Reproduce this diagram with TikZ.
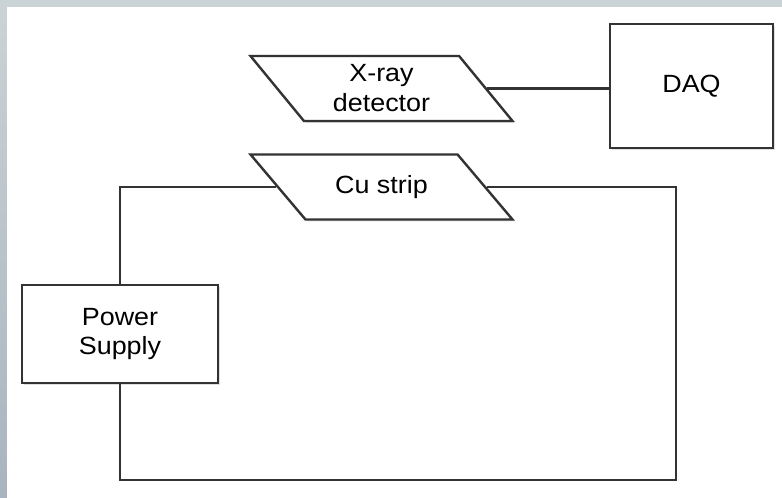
\documentclass[tikz,border=0pt]{standalone}
\usepackage{fontspec}
\usetikzlibrary{shapes.geometric,shadows}
\newfontfamily\diagfont[FakeStretch=1.08]{Liberation Sans}
\newcommand{\blockfont}{\diagfont\fontsize{25}{30}\selectfont}
\definecolor{wire}{HTML}{333333}
\definecolor{backtop}{HTML}{CAD3D5}
\definecolor{backbot}{HTML}{A8B4BF}

\begin{document}
\begin{tikzpicture}[x=1bp,y=-1bp,
  block/.style={draw=wire, line width=2.4bp, fill=white, inner sep=0pt, align=center, font=\blockfont,
    drop shadow={shadow xshift=2bp, shadow yshift=-2bp, opacity=0.25}},
  slab/.style 2 args={block, trapezium, trapezium left angle=#1, trapezium right angle=#2,
    trapezium stretches body, minimum width=262bp, minimum height=65bp},
  wiring/.style={draw=wire, line width=2.4bp}]
\useasboundingbox (0,0) rectangle (782,498);
\fill[top color=backtop, bottom color=backbot] (0,0) rectangle (782,498);
\fill[white] (7,7) rectangle (782,498);
\node[slab={138.5}{41.5}] (xray) at (381.5,88.5) {X-ray\\detector};
\node[slab={157.1}{22.9}] (cu) at (381.5,187) {Cu strip};
\node[block, minimum width=163bp, minimum height=124bp] (daq) at (691.5,86) {DAQ};
\node[block, minimum width=196bp, minimum height=98bp] (psu) at (120,334) {Power\\Supply};
\coordinate (loop) at (676,480);
\draw[wiring] (xray.east) -- (xray.east -| daq.west);
\draw[wiring] (psu.north) |- (cu.west);
\draw[wiring] (cu.east) -| (loop) -| (psu.south);
\end{tikzpicture}
\end{document}
